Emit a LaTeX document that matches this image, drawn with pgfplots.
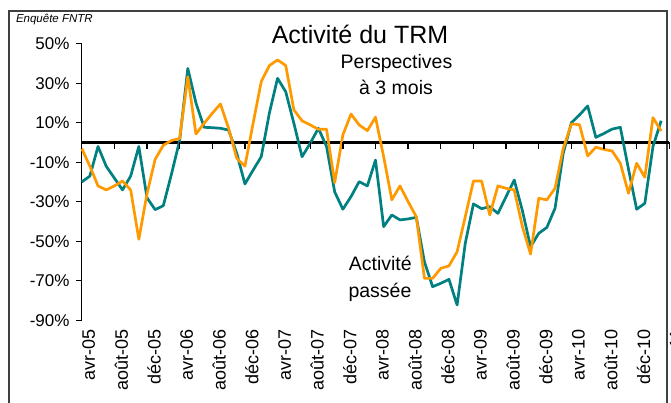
\documentclass[border=0pt]{standalone}
\usepackage{pgfplots}
\pgfplotsset{compat=1.18}
\usepackage{pgfplotstable}
\usepackage{fontspec}
\setmainfont{Liberation Sans}
\definecolor{tealc}{HTML}{008080}
\definecolor{orangec}{HTML}{FF9900}
\definecolor{framec}{HTML}{404040}

\pgfplotstableread{
i passee persp
0 -20 -3
1 -17 -12
2 -2 -22
3 -12 -24
4 -18 -22
5 -24 -19.5
6 -17 -24
7 -2 -49
8 -28 -26
9 -34 -8.5
10 -32 -1.4
11 -16 1
12 1 2
13 37.5 33.3
14 20 4.3
15 7.7 9.7
16 7.5 14.8
17 7.2 19.5
18 6.3 7.2
19 -5.5 -8
20 -21 -12
21 -14 9.7
22 -7.2 30.8
23 15 39
24 32.5 41.8
25 25.7 39
26 9.7 16.5
27 -7.2 11
28 -0.4 8.9
29 7.2 6.7
30 -2 6.7
31 -25 -20.3
32 -33.8 3.8
33 -27.4 14.4
34 -19.8 8.9
35 -22 6
36 -8.9 12.8
37 -42.6 -7.2
38 -36.7 -29
39 -39.2 -22
40 -38.7 -30
41 -37.9 -37.6
42 -60.5 -68.8
43 -73 -68.8
44 -71.3 -63.7
45 -69.3 -62.5
46 -82.3 -55.3
47 -51 -37.6
48 -31.1 -19.5
49 -33.5 -19.5
50 -32.5 -36.7
51 -35.9 -22
52 -27.4 -23.2
53 -19 -24
54 -34.5 -42.6
55 -52.8 -56.5
56 -46 -28.3
57 -43 -29
58 -33.3 -23.2
59 -5.5 -3
60 10 9.4
61 14 9
62 18.5 -6.8
63 2.6 -2.4
64 4.6 -3.5
65 6.8 -4.3
66 7.7 -10.5
67 -13.5 -25.7
68 -33.8 -10.5
69 -30.8 -17.6
70 -2 12.6
71 11 5.8
}\data

\pgfplotstableread{
x y
0 -1.6
4 -1.6
8 -1.6
12 -1.6
16 -1.6
20 -1.6
24 -1.6
28 -1.6
32 -1.6
36 -1.6
40 -1.6
44 -1.6
48 -1.6
52 -1.6
56 -1.6
60 -1.6
64 -1.6
68 -1.6
72 -1.6
}\ticksdata

\begin{document}
\begin{tikzpicture}
\useasboundingbox (0,0) rectangle (671pt,403pt);
\fill[white] (0,0) rectangle (671pt,403pt);
\draw[framec, line width=1.3pt] (9pt,-10pt) rectangle (667pt,392pt);
\begin{axis}[
  at={(81.7pt,82.75pt)}, anchor=south west,
  scale only axis, width=587.6pt, height=276.5pt,
  xmin=0, xmax=72, ymin=-90, ymax=50,
  clip=false,
  axis y line=left, axis x line=bottom,
  x axis line style={draw=none},
  y axis line style={black, line width=0.9pt, -},
  tick align=outside,
  xtick={0,4,...,72},
  xticklabels={avr-05,août-05,déc-05,avr-06,août-06,déc-06,avr-07,août-07,déc-07,avr-08,août-08,déc-08,avr-09,août-09,déc-09,avr-10,août-10,déc-10,avr-11},
  x tick style={draw=none},
  xticklabel style={rotate=90, anchor=east, font=\fontsize{18}{20}\selectfont, yshift=-7pt},
  ytick={-90,-70,-50,-30,-10,10,30,50},
  yticklabels={-90\%,-70\%,-50\%,-30\%,-10\%,10\%,30\%,50\%},
  y tick style={black, line width=0.9pt},
  major tick length=5.7pt,
  yticklabel style={font=\fontsize{17}{20}\selectfont, xshift=-3pt},
]
\addplot[black, line width=2.3pt, forget plot] coordinates {(0,0) (72,0)};
\addplot[black, only marks, mark=|, mark size=3.2pt, mark options={line width=1.3pt}, forget plot] table[x=x,y=y] {\ticksdata};
\addplot[tealc, line width=2.7pt, line join=round] table[x=i,y=passee] {\data};
\addplot[orangec, line width=2.7pt, line join=round] table[x=i,y=persp] {\data};
\end{axis}
\node[anchor=base west, font=\fontsize{11.5}{13}\selectfont\itshape] at (12.5pt,380pt) {Enquête FNTR};
\node[anchor=base, font=\fontsize{25}{28}\selectfont] at (360pt,359.5pt) {Activité du TRM};
\node[anchor=base, font=\fontsize{19.5}{22}\selectfont] at (396.5pt,334.7pt) {Perspectives};
\node[anchor=base, font=\fontsize{19.5}{22}\selectfont] at (396pt,308pt) {à 3 mois};
\node[anchor=base, font=\fontsize{19.5}{22}\selectfont] at (380.3pt,132.3pt) {Activité};
\node[anchor=base, font=\fontsize{19.5}{22}\selectfont] at (380pt,105.7pt) {passée};
\end{tikzpicture}
\end{document}
